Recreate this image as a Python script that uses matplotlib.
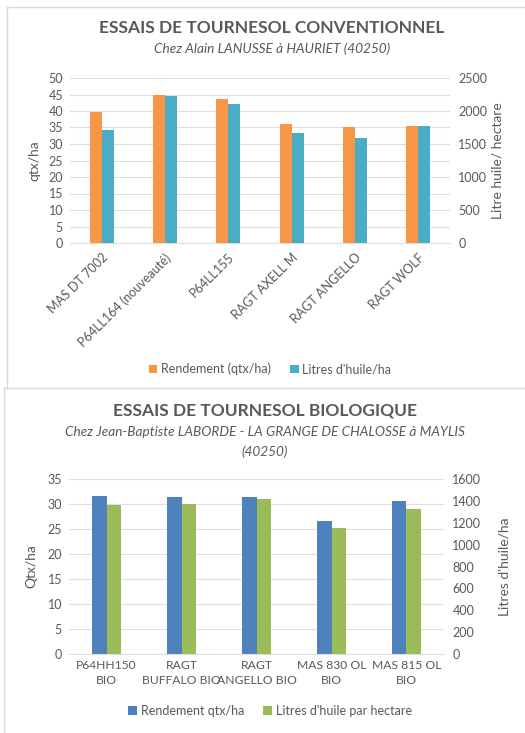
import matplotlib.pyplot as plt
import numpy as np
from matplotlib.lines import Line2D

plt.rcParams['font.family'] = ['Lato', 'DejaVu Sans']

# conventional trial
conv_varietes = ['MAS DT 7002', 'P64LL164 (nouveauté)', 'P64LL155', 'RAGT AXELL M',
                 'RAGT ANGELLO', 'RAGT WOLF']
conv_rendement = [39.8, 44.9, 43.5, 36.1, 35.3, 35.6]
conv_huile = [1705, 2220, 2105, 1665, 1595, 1780]

# organic trial
bio_varietes = ['P64HH150\nBIO', 'RAGT\nBUFFALO BIO', 'RAGT\nANGELLO BIO', 'MAS 830 OL\nBIO',
                'MAS 815 OL\nBIO']
bio_rendement = [31.7, 31.5, 31.5, 26.7, 30.6]
bio_huile = [1366, 1374, 1420, 1152, 1328]

W, H = 525, 733
fig = plt.figure(figsize=(W / 100, H / 100), dpi=100)
txt = '#595959'
grid = '#DEDEDE'


def px_axes(x0, y0, x1, y1):
    return fig.add_axes([x0 / W, 1 - y1 / H, (x1 - x0) / W, (y1 - y0) / H])


def style(ax, ax2):
    for a in (ax, ax2):
        for s in a.spines.values():
            s.set_visible(False)
        a.tick_params(length=0, colors=txt, labelsize=9)
    ax.spines['bottom'].set_visible(True)
    ax.spines['bottom'].set_color(grid)
    ax.yaxis.grid(True, color=grid, lw=0.8)
    ax.set_axisbelow(True)
    ax.tick_params(axis='y', pad=5)
    ax2.tick_params(axis='y', pad=6)


# panel borders
fig.add_artist(Line2D([7 / W, 1], [1 - 7 / H] * 2, color='#D9D9D9', lw=1))
fig.add_artist(Line2D([7 / W] * 2, [1 - 7 / H, 1 - 388 / H], color='#D9D9D9', lw=1))
fig.add_artist(Line2D([4 / W, 1], [1 - 388 / H] * 2, color='#D9D9D9', lw=1))
fig.add_artist(Line2D([4 / W] * 2, [1 - 388 / H, 0], color='#D9D9D9', lw=1))

# ---- top chart
ax = px_axes(70, 78, 450, 243)
ax2 = ax.twinx()
x = np.arange(len(conv_varietes))
bw = 0.19
b1 = ax.bar(x - bw / 2, conv_rendement, bw, color='#F79646')
b2 = ax2.bar(x + bw / 2, conv_huile, bw, color='#4BACC6')
ax.set_ylim(0, 50)
ax.set_yticks(range(0, 51, 5))
ax2.set_ylim(0, 2500)
ax2.set_yticks(range(0, 2501, 500))
ax.set_xlim(-0.5, len(x) - 0.5)
ax.set_xticks(x)
ax.set_xticklabels(conv_varietes, rotation=45, ha='right', rotation_mode='anchor')
style(ax, ax2)
ax.tick_params(axis='x', pad=6)
ax.set_ylabel('qtx/ha', color=txt, fontsize=10, labelpad=6)
ax2.set_ylabel('Litre huile/ hectare', color=txt, fontsize=10, labelpad=3)
fig.text(272 / W, 1 - 28 / H, 'ESSAIS DE TOURNESOL CONVENTIONNEL', ha='center', va='center',
         fontsize=12.5, fontweight='bold', color=txt)
fig.text(272 / W, 1 - 49 / H, 'Chez Alain LANUSSE à HAURIET (40250)', ha='center', va='center',
         fontsize=9.8, style='italic', color=txt)
fig.legend([b1, b2], ['Rendement (qtx/ha)', "Litres d'huile/ha"], loc='center',
           bbox_to_anchor=(270 / W, 1 - 369 / H), ncol=2, frameon=False, fontsize=9,
           labelcolor=txt, handlelength=0.7, handleheight=0.7, columnspacing=1.5,
           handletextpad=0.3)

# ---- bottom chart
bx = px_axes(69, 479, 444, 654)
bx2 = bx.twinx()
x = np.arange(len(bio_varietes))
bw = 0.19
c1 = bx.bar(x - bw / 2, bio_rendement, bw, color='#4F81BD')
c2 = bx2.bar(x + bw / 2, bio_huile, bw, color='#9BBB59')
bx.set_ylim(0, 35)
bx.set_yticks(range(0, 36, 5))
bx2.set_ylim(0, 1600)
bx2.set_yticks(range(0, 1601, 200))
bx.set_xlim(-0.5, len(x) - 0.5)
bx.set_xticks(x)
bx.set_xticklabels(bio_varietes, linespacing=1.5)
style(bx, bx2)
bx.tick_params(axis='x', pad=4, labelsize=8.7)
bx.set_ylabel('Qtx/ha', color=txt, fontsize=10, labelpad=7)
bx2.set_ylabel("Litres d'huile/ha", color=txt, fontsize=10, labelpad=12)
fig.text(265 / W, 1 - 411 / H, 'ESSAIS DE TOURNESOL BIOLOGIQUE', ha='center', va='center',
         fontsize=12.5, fontweight='bold', color=txt)
fig.text(265 / W, 1 - 432 / H, 'Chez Jean-Baptiste LABORDE - LA GRANGE DE CHALOSSE à MAYLIS',
         ha='center', va='center', fontsize=9.8, style='italic', color=txt)
fig.text(265 / W, 1 - 452 / H, '(40250)', ha='center', va='center', fontsize=9.8,
         style='italic', color=txt)
fig.legend([c1, c2], ['Rendement qtx/ha', "Litres d'huile par hectare"], loc='center',
           bbox_to_anchor=(270 / W, 1 - 711 / H), ncol=2, frameon=False, fontsize=9,
           labelcolor=txt, handlelength=0.7, handleheight=0.7, columnspacing=1.5,
           handletextpad=0.3)

fig.savefig('out.png', dpi=100)
